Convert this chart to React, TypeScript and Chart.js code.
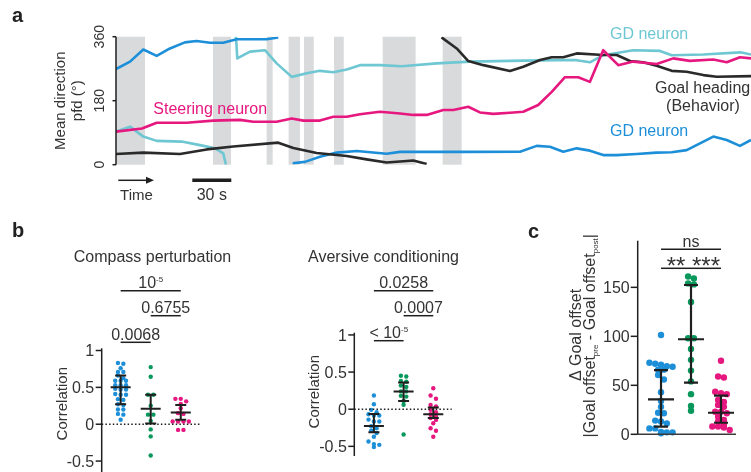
import React, { useEffect, useRef } from "react";
import { Chart, registerables } from "chart.js";

Chart.register(...registerables);

const CW = 800;
const CH = 520;
const FONT = "'Liberation Sans', Arial, Helvetica, sans-serif";
const TXT = "#333333";
const INK = "#1f1f1f";
const BLUE = "#1d8fd8";
const CYAN = "#6ec7d2";
const MAGENTA = "#e6177f";
const GREEN = "#08985c";
const BLACK = "#2a2a2a";
const BAND = "#d9dadb";

// ---------------- Panel a: mean direction over time ----------------
const headingTicks = [0, 180, 360];
const headingTickLabels = ["0", "180", "360"];
const stimOn = [0, 74.6, 115.9, 132.8, 144.6, 167.7, 205.2, 251.3];
const stimOff = [22.3, 88.5, 120.5, 141.5, 152.1, 175.2, 230.5, 265.9];
const scaleBarSeconds = 30;

const gdBlueTime1 = [0, 10.8, 21, 31.3, 41.5, 53, 62, 72.3, 82.5, 92.8, 115.8, 124.8];
const gdBlueDeg1 = [269, 290, 324, 306, 327, 344, 348, 343, 343, 353, 353, 358];
const gdBlueTime2 = [135.9, 145.4, 156.9, 169.8, 185.2, 208.2, 218.5, 272.3, 310.8, 323.6, 333.8, 344.1, 354.4, 364.6, 374.8, 385.2, 400.5, 415.9, 427.5, 439, 459.5, 469.8, 480, 488.5];
const gdBlueDeg2 = [4, 8, 22.5, 34, 38.5, 31, 36, 36, 36.5, 53, 50.5, 36.5, 46, 39.5, 27, 27, 30, 34, 35, 41, 79, 69.5, 53, 69.5];

const gdCyanTime1 = [0, 10.8, 21, 31.3, 50.5, 64.6, 76.2, 82.5, 84.6];
const gdCyanDeg1 = [93, 107, 79, 67, 65, 55, 46, 32, 0];
const gdCyanTime2 = [92.3, 93.3, 103.1, 114.6, 123.6, 135.2, 146.7, 156.9, 167.2, 177.5, 187.7, 203.1, 219.8, 246.7, 272.3, 303.1, 339, 354.4, 364.6, 374.8, 397.9, 418.5, 427.5, 451.8, 480.3, 488.5];
const gdCyanDeg2 = [360, 299, 318, 322, 285, 247, 257, 264, 260, 268, 280, 280, 277, 285, 290, 292, 294, 294, 288, 308, 322, 320, 308, 310, 316, 310];

const steeringTime = [0, 20, 31.3, 54.4, 74.8, 95.4, 105.6, 123.6, 135.2, 144.1, 156.9, 167.2, 177.5, 187.7, 203.1, 218.5, 228.7, 239, 251.8, 259.5, 271, 280, 290.2, 303.1, 313.3, 324.8, 335.2, 345.4, 355.6, 364.6, 374.8, 386.4, 397.9, 415.9, 428.7, 441.5, 459.5, 469.8, 480, 488.5];
const steeringDeg = [93, 102, 118, 118, 124, 126, 121, 121, 130, 124, 124, 135, 135, 142, 149, 144, 140, 140, 154, 154, 163, 147, 143, 146, 149, 168, 205, 246, 246, 233, 322, 280, 290, 283, 299, 292, 296, 288, 302, 299];

const goalTime1 = [0, 21, 49.2, 69.8, 90.2, 124.8, 136.4, 154.4, 177.5, 192.8, 208.2, 228.7, 239];
const goalDeg1 = [30, 34, 30, 43, 51, 62, 47, 33, 24.5, 15, 6, 12, 2];
const goalTime2 = [250.4, 262.1, 271, 282.6, 303.1, 313.3, 326.2, 335.2, 344.1, 354.4, 374.8, 385.2, 395.4, 405.6, 415.9, 427.5, 439, 451.8, 462.1, 488.5];
const goalDeg2 = [358, 327, 291.6, 280, 263.5, 275.6, 294.4, 302, 302, 313, 308.5, 308.5, 291.6, 288, 278, 264, 261.5, 252, 247.5, 249];

// ---------------- Panel b: correlations ----------------
const correlationTicks = [-0.5, 0, 0.5, 1];
const correlationTickLabels = ["-0.5", "0", "0.5", "1"];

const compassBlue = [0.83, 0.82, 0.76, 0.71, 0.71, 0.66, 0.625, 0.59, 0.59, 0.59, 0.53, 0.53, 0.53, 0.48, 0.47, 0.47, 0.41, 0.4, 0.4, 0.34, 0.33, 0.27, 0.26, 0.2, 0.2, 0.14, 0.13, 0.06];
const compassGreen = [0.775, 0.645, 0.4, 0.4, 0.25, 0.13, 0.13, 0.045, -0.07, -0.165, -0.425];
const compassMagenta = [0.344, 0.344, 0.31, 0.276, 0.217, 0.15, 0.14, 0.036, 0.036, 0.036, 0.036, -0.077, -0.077];
const compassMedian = [0.5, 0.21, 0.16];
const compassLow = [0.27, 0.01, 0.06];
const compassHigh = [0.66, 0.4, 0.26];
const compassFrom = [1, 2, 1];
const compassTo = [3, 3, 2];
const compassP = ["10", "0.6755", "0.0068"];
const compassPExp = ["-5", "", ""];

const aversiveBlue = [0.184, 0.067, -0.009, -0.04, -0.067, -0.085, -0.085, -0.14, -0.166, -0.166, -0.23, -0.255, -0.29, -0.32, -0.37, -0.435, -0.47, -0.48, -0.51];
const aversiveGreen = [0.45, 0.44, 0.38, 0.37, 0.32, 0.3, 0.24, 0.24, 0.18, 0.17, 0.11, 0.06, -0.34];
const aversiveMagenta = [0.283, 0.184, 0.14, 0.058, 0.036, -0.009, -0.04, -0.067, -0.1, -0.12, -0.144, -0.19, -0.256, -0.29, -0.37];
const aversiveMedian = [-0.225, 0.237, -0.067];
const aversiveLow = [-0.31, 0.112, -0.12];
const aversiveHigh = [-0.063, 0.358, 0.022];
const aversiveFrom = [1, 2, 1];
const aversiveTo = [3, 3, 2];
const aversiveP = ["0.0258", "0.0007", "< 10"];
const aversivePExp = ["", "", "-5"];

// ---------------- Panel c: goal offset change ----------------
const offsetTicks = [0, 50, 100, 150];
const offsetTickLabels = ["0", "50", "100", "150"];
const offsetBlue = [101.4, 73, 72, 71, 69.5, 69, 66, 66, 60.5, 56, 43, 34, 28, 22, 21.5, 14, 13, 11, 6, 6, 2.5, 2, 2, 1];
const offsetGreen = [161, 159, 154, 153, 135, 98, 98, 87, 76, 65, 54, 41, 29, 24];
const offsetMagenta = [75, 59, 58, 43.5, 42, 41, 35, 33, 30, 28, 23, 23, 21.5, 18, 14.6, 13, 10, 8, 8, 7, 4.4];
const offsetMedian = [35.7, 97, 22];
const offsetLow = [7.8, 52.7, 11.8];
const offsetHigh = [65.6, 152.4, 39.4];
const offsetFrom = [1, 1, 2];
const offsetTo = [3, 2, 3];
const offsetSig = ["ns", "**", "***"];

// ---------------- helpers ----------------
function baseOptions(area: any, xr: number[], yr: number[]): any {
  return {
    responsive: false,
    animation: false,
    events: [],
    layout: { padding: { left: area.l, top: area.t, right: CW - area.r, bottom: CH - area.b } },
    plugins: { legend: { display: false }, tooltip: { enabled: false } },
    scales: {
      x: { type: "linear", display: false, min: xr[0], max: xr[1] },
      y: { type: "linear", display: false, min: yr[0], max: yr[1] },
    },
  };
}

function text(ctx: any, s: string, x: number, y: number, size: number, o: any = {}) {
  ctx.save();
  ctx.font = `${o.bold ? "bold " : ""}${size}px ${FONT}`;
  ctx.fillStyle = o.color || TXT;
  ctx.textAlign = o.align || "left";
  ctx.textBaseline = "alphabetic";
  ctx.translate(x, y);
  if (o.rot) ctx.rotate(o.rot);
  ctx.fillText(s, 0, 0);
  ctx.restore();
}

function rich(ctx: any, segs: any[], x: number, y: number, rot = 0, color = TXT) {
  ctx.save();
  ctx.translate(x, y);
  if (rot) ctx.rotate(rot);
  ctx.fillStyle = color;
  ctx.textBaseline = "alphabetic";
  ctx.textAlign = "left";
  let total = 0;
  const widths = segs.map((s) => {
    ctx.font = `${s.size}px ${s.family || FONT}`;
    const w = ctx.measureText(s.t).width;
    total += w;
    return w;
  });
  let cx = -total / 2;
  segs.forEach((s, i) => {
    ctx.font = `${s.size}px ${s.family || FONT}`;
    ctx.fillText(s.t, cx, s.dy || 0);
    cx += widths[i];
  });
  ctx.restore();
}

function drawYAxis(ctx: any, chart: any, ticks: number[], labels: string[], tickLen: number, gap: number, size: number) {
  const ca = chart.chartArea;
  const y = chart.scales.y;
  ctx.save();
  ctx.strokeStyle = INK;
  ctx.lineWidth = 1.5;
  ctx.beginPath();
  ctx.moveTo(ca.left, ca.top);
  ctx.lineTo(ca.left, ca.bottom);
  ctx.stroke();
  ctx.font = `${size}px ${FONT}`;
  ctx.fillStyle = TXT;
  ctx.textAlign = "right";
  ctx.textBaseline = "alphabetic";
  ticks.forEach((v, i) => {
    const py = y.getPixelForValue(v);
    ctx.beginPath();
    ctx.moveTo(ca.left - tickLen, py);
    ctx.lineTo(ca.left, py);
    ctx.stroke();
    ctx.fillText(labels[i], ca.left - tickLen - gap, py + 0.358 * size);
  });
  ctx.restore();
}

function drawSig(ctx: any, chart: any, from: number[], to: number[], labels: string[], exps: string[] | null, rows: number[], o: any = {}) {
  const xs = chart.scales.x;
  ctx.save();
  ctx.strokeStyle = INK;
  ctx.lineWidth = 1.5;
  from.forEach((f, i) => {
    const x0 = xs.getPixelForValue(f);
    const x1 = xs.getPixelForValue(to[i]);
    const yl = rows[i];
    ctx.beginPath();
    ctx.moveTo(x0, yl);
    ctx.lineTo(x1, yl);
    ctx.stroke();
    const size = o.size || 16;
    const fam = o.family || FONT;
    ctx.font = `${size}px ${fam}`;
    const m = ctx.measureText(labels[i]);
    const base = yl - (o.gap ?? 2.5) - Math.max(m.actualBoundingBoxDescent, o.allowAbove ? -99 : 0);
    const segs: any[] = [{ t: labels[i], size, family: fam }];
    if (exps && exps[i]) segs.push({ t: exps[i], size: 8, dy: -6 });
    rich(ctx, segs, (x0 + x1) / 2, base);
  });
  ctx.restore();
}

function statsPlugin(id: string, med: number[], lo: number[], hi: number[], medHalf: number, capHalf: number, lw: number) {
  return {
    id,
    afterDatasetsDraw(chart: any) {
      const { ctx, scales } = chart;
      const xs = scales.x;
      const ys = scales.y;
      ctx.save();
      ctx.strokeStyle = INK;
      ctx.lineWidth = lw;
      ctx.lineCap = "butt";
      med.forEach((m, i) => {
        const cx = xs.getPixelForValue(i + 1);
        const pm = ys.getPixelForValue(m);
        const pl = ys.getPixelForValue(lo[i]);
        const ph = ys.getPixelForValue(hi[i]);
        ctx.beginPath();
        ctx.moveTo(cx, pl);
        ctx.lineTo(cx, ph);
        ctx.moveTo(cx - medHalf, pm);
        ctx.lineTo(cx + medHalf, pm);
        ctx.moveTo(cx - capHalf, pl);
        ctx.lineTo(cx + capHalf, pl);
        ctx.moveTo(cx - capHalf, ph);
        ctx.lineTo(cx + capHalf, ph);
        ctx.stroke();
      });
      ctx.restore();
    },
  };
}

// Row-based scatter-dot layout (points closer than rowH px share a row, centred on the group)
function applySwarm(chart: any, groups: number[][], rowH: number, spacing: number) {
  const xs = chart.scales.x;
  const ys = chart.scales.y;
  groups.forEach((vals, gi) => {
    const cx = xs.getPixelForValue(gi + 1);
    const order = vals.map((_, i) => i).sort((a, b) => vals[b] - vals[a]);
    const rows: number[][] = [];
    let cur: number[] = [];
    let top: number | null = null;
    order.forEach((i) => {
      const py = ys.getPixelForValue(vals[i]);
      if (top === null || py - top > rowH) {
        if (cur.length) rows.push(cur);
        cur = [i];
        top = py;
      } else cur.push(i);
    });
    if (cur.length) rows.push(cur);
    const xv: number[] = new Array(vals.length).fill(gi + 1);
    rows.forEach((r) =>
      r.forEach((i, j) => {
        xv[i] = xs.getValueForPixel(cx + (j - (r.length - 1) / 2) * spacing);
      })
    );
    chart.data.datasets[gi].data = vals.map((v, i) => ({ x: xv[i], y: v }));
  });
  chart.update();
}

// ---------------- Panel a ----------------
function makePanelA(canvas: HTMLCanvasElement) {
  const line = (ts: number[], ds: number[], color: string) => ({
    type: "line",
    data: ts.map((t, i) => ({ x: t, y: ds[i] })),
    borderColor: color,
    borderWidth: 2.6,
    pointRadius: 0,
    fill: false,
    tension: 0,
    borderJoinStyle: "round",
  });
  const plugin = {
    id: "panelA",
    beforeDatasetsDraw(chart: any) {
      const { ctx, chartArea: ca, scales } = chart;
      ctx.save();
      ctx.fillStyle = BAND;
      stimOn.forEach((s, i) => {
        const x0 = scales.x.getPixelForValue(s);
        const x1 = scales.x.getPixelForValue(stimOff[i]);
        ctx.fillRect(x0, ca.top, x1 - x0, ca.bottom - ca.top);
      });
      ctx.restore();
    },
    afterDatasetsDraw(chart: any) {
      const { ctx, chartArea: ca, scales } = chart;
      const y = scales.y;
      const x = scales.x;
      ctx.save();
      ctx.strokeStyle = INK;
      ctx.lineWidth = 1.5;
      ctx.beginPath();
      ctx.moveTo(ca.left, ca.top);
      ctx.lineTo(ca.left, ca.bottom);
      ctx.stroke();
      headingTicks.forEach((v, i) => {
        const py = y.getPixelForValue(v);
        ctx.beginPath();
        ctx.moveTo(ca.left - 3.5, py);
        ctx.lineTo(ca.left, py);
        ctx.stroke();
        text(ctx, headingTickLabels[i], ca.left - 12.5, py, 14, { align: "center", rot: -Math.PI / 2 });
      });
      const midY = (ca.top + ca.bottom) / 2;
      text(ctx, "Mean direction", 64.5, midY, 15, { align: "center", rot: -Math.PI / 2 });
      text(ctx, "pfd (°)", 81.5, midY, 15, { align: "center", rot: -Math.PI / 2 });
      // series labels
      text(ctx, "Steering neuron", 153.3, 113.5, 16, { color: MAGENTA });
      text(ctx, "GD neuron", 610, 39.3, 16, { color: CYAN });
      text(ctx, "GD neuron", 610, 135.7, 16, { color: BLUE });
      text(ctx, "Goal heading", 655, 93.3, 16);
      text(ctx, "(Behavior)", 703, 111, 16, { align: "center" });
      // time arrow
      const ay = ca.bottom + 15.6;
      ctx.strokeStyle = INK;
      ctx.fillStyle = INK;
      ctx.lineWidth = 1.5;
      ctx.beginPath();
      ctx.moveTo(ca.left + 2.3, ay);
      ctx.lineTo(ca.left + 31, ay);
      ctx.stroke();
      ctx.beginPath();
      ctx.moveTo(ca.left + 38, ay);
      ctx.lineTo(ca.left + 30, ay - 3.5);
      ctx.lineTo(ca.left + 30, ay + 3.5);
      ctx.closePath();
      ctx.fill();
      text(ctx, "Time", ca.left + 20.5, 200, 15, { align: "center" });
      // 30 s scale bar
      const sb0 = x.getPixelForValue(58.7);
      const sb1 = x.getPixelForValue(58.7 + scaleBarSeconds);
      ctx.lineWidth = 3.5;
      ctx.lineCap = "butt";
      ctx.beginPath();
      ctx.moveTo(sb0, ay);
      ctx.lineTo(sb1, ay);
      ctx.stroke();
      text(ctx, "30 s", (sb0 + sb1) / 2, 200, 16, { align: "center" });
      text(ctx, "a", 12, 22, 20, { bold: true, color: "#222" });
      ctx.restore();
    },
  };
  return new Chart(canvas, {
    type: "line",
    data: {
      datasets: [
        line(steeringTime, steeringDeg, MAGENTA),
        line(goalTime1, goalDeg1, BLACK),
        line(goalTime2, goalDeg2, BLACK),
        line(gdBlueTime1, gdBlueDeg1, BLUE),
        line(gdBlueTime2, gdBlueDeg2, BLUE),
        line(gdCyanTime1, gdCyanDeg1, CYAN),
        line(gdCyanTime2, gdCyanDeg2, CYAN),
      ] as any,
    },
    options: baseOptions({ l: 116, t: 36.7, r: 751, b: 164.7 }, [0, 488.5], [0, 360]),
    plugins: [plugin as any],
  });
}

// ---------------- Dot panels ----------------
function makeDotPanel(canvas: HTMLCanvasElement, s: any) {
  const colors = [BLUE, GREEN, MAGENTA];
  const ds = s.groups.map((g: number[], i: number) => ({
    type: "scatter",
    data: g.map((v) => ({ x: i + 1, y: v })),
    backgroundColor: colors[i],
    borderWidth: 0,
    pointRadius: s.radius,
    clip: false,
  }));
  const deco = {
    id: "deco",
    afterDatasetsDraw(chart: any) {
      const { ctx, chartArea: ca, scales } = chart;
      if (s.zeroLine) {
        const py = scales.y.getPixelForValue(0);
        ctx.save();
        ctx.strokeStyle = INK;
        ctx.lineWidth = 1.5;
        ctx.setLineDash([1.5, 2.2]);
        ctx.beginPath();
        ctx.moveTo(ca.left, py);
        ctx.lineTo(ca.right, py);
        ctx.stroke();
        ctx.restore();
      }
      if (s.xAxisLine) {
        ctx.save();
        ctx.strokeStyle = "#3a3a3a";
        ctx.lineWidth = 1.5;
        ctx.beginPath();
        ctx.moveTo(ca.left, ca.bottom);
        ctx.lineTo(ca.right, ca.bottom);
        ctx.stroke();
        ctx.restore();
      }
      drawYAxis(ctx, chart, s.ticks, s.tickLabels, s.tickLen, s.labelGap, 16);
      s.draw(ctx, chart);
    },
  };
  const chart = new Chart(canvas, {
    type: "scatter",
    data: { datasets: ds },
    options: baseOptions(s.area, s.xr, s.yr),
    plugins: [statsPlugin("stats", s.med, s.lo, s.hi, s.medHalf, s.capHalf, s.barWidth) as any, deco as any],
  });
  applySwarm(chart, s.groups, s.rowH, s.spacing);
  return chart;
}

export default function App() {
  const refA = useRef<HTMLCanvasElement>(null);
  const refB1 = useRef<HTMLCanvasElement>(null);
  const refB2 = useRef<HTMLCanvasElement>(null);
  const refC = useRef<HTMLCanvasElement>(null);

  useEffect(() => {
    const charts: any[] = [];
    charts.push(makePanelA(refA.current!));
    charts.push(
      makeDotPanel(refB1.current!, {
        area: { l: 101.7, t: 348.3, r: 200, b: 479.5 },
        xr: [0.37, 3.64],
        yr: [-0.75, 1.03],
        groups: [compassBlue, compassGreen, compassMagenta],
        radius: 2.2,
        rowH: 3.6,
        spacing: 5.4,
        med: compassMedian,
        lo: compassLow,
        hi: compassHigh,
        medHalf: 10,
        capHalf: 5.5,
        barWidth: 2,
        ticks: correlationTicks,
        tickLabels: correlationTickLabels,
        tickLen: 6,
        labelGap: 1.5,
        zeroLine: true,
        xAxisLine: false,
        draw: (ctx: any, chart: any) => {
          text(ctx, "b", 12, 237, 20, { bold: true, color: "#222" });
          text(ctx, "Compass perturbation", 152.5, 261.7, 16, { align: "center" });
          text(ctx, "Correlation", 66.5, 403.7, 15, { align: "center", rot: -Math.PI / 2 });
          drawSig(ctx, chart, compassFrom, compassTo, compassP, compassPExp, [290.7, 315.7, 342.3]);
        },
      })
    );
    charts.push(
      makeDotPanel(refB2.current!, {
        area: { l: 354.3, t: 332.7, r: 451.7, b: 456 },
        xr: [0.34, 3.62],
        yr: [-0.63, 1.03],
        groups: [aversiveBlue, aversiveGreen, aversiveMagenta],
        radius: 2.2,
        rowH: 3.6,
        spacing: 5.4,
        med: aversiveMedian,
        lo: aversiveLow,
        hi: aversiveHigh,
        medHalf: 10,
        capHalf: 5.5,
        barWidth: 2,
        ticks: correlationTicks,
        tickLabels: correlationTickLabels,
        tickLen: 6,
        labelGap: 1.5,
        zeroLine: true,
        xAxisLine: false,
        draw: (ctx: any, chart: any) => {
          text(ctx, "Aversive conditioning", 383.5, 261.7, 16, { align: "center" });
          text(ctx, "Correlation", 318.5, 391.7, 15, { align: "center", rot: -Math.PI / 2 });
          drawSig(ctx, chart, aversiveFrom, aversiveTo, aversiveP, aversivePExp, [290.7, 315.7, 340.7]);
        },
      })
    );
    charts.push(
      makeDotPanel(refC.current!, {
        area: { l: 637.7, t: 240.7, r: 736, b: 434.3 },
        xr: [0.223, 3.5],
        yr: [0, 197.6],
        groups: [offsetBlue, offsetGreen, offsetMagenta],
        radius: 3.2,
        rowH: 4.5,
        spacing: 5.8,
        med: offsetMedian,
        lo: offsetLow,
        hi: offsetHigh,
        medHalf: 13,
        capHalf: 7,
        barWidth: 2.2,
        ticks: offsetTicks,
        tickLabels: offsetTickLabels,
        tickLen: 7,
        labelGap: 1,
        zeroLine: false,
        xAxisLine: true,
        draw: (ctx: any, chart: any) => {
          text(ctx, "c", 528, 238, 20, { bold: true, color: "#222" });
          text(ctx, "\u0394 Goal offset", 580.5, 335, 16, { align: "center", rot: -Math.PI / 2 });
          rich(
            ctx,
            [
              { t: "|Goal offset", size: 16 },
              { t: "pre", size: 8, dy: 3 },
              { t: " - Goal offset", size: 16 },
              { t: "post", size: 8, dy: 3 },
              { t: "|", size: 16 },
            ],
            594.5,
            335.7,
            -Math.PI / 2
          );
          drawSig(ctx, chart, [offsetFrom[0]], [offsetTo[0]], [offsetSig[0]], null, [249.3]);
          drawSig(ctx, chart, offsetFrom.slice(1), offsetTo.slice(1), offsetSig.slice(1), null, [268.3, 268.3], {
            size: 24,
            gap: 2,
            allowAbove: true,
          });
        },
      })
    );
    return () => charts.forEach((c) => c.destroy());
  }, []);

  const cs: any = { position: "absolute", left: 0, top: 0, width: CW, height: CH };
  return (
    <div style={{ position: "fixed", left: 0, top: 0, width: 751, height: 472, overflow: "hidden", background: "#fff" }}>
      <canvas ref={refA} width={CW} height={CH} style={cs} />
      <canvas ref={refB1} width={CW} height={CH} style={cs} />
      <canvas ref={refB2} width={CW} height={CH} style={cs} />
      <canvas ref={refC} width={CW} height={CH} style={cs} />
    </div>
  );
}
